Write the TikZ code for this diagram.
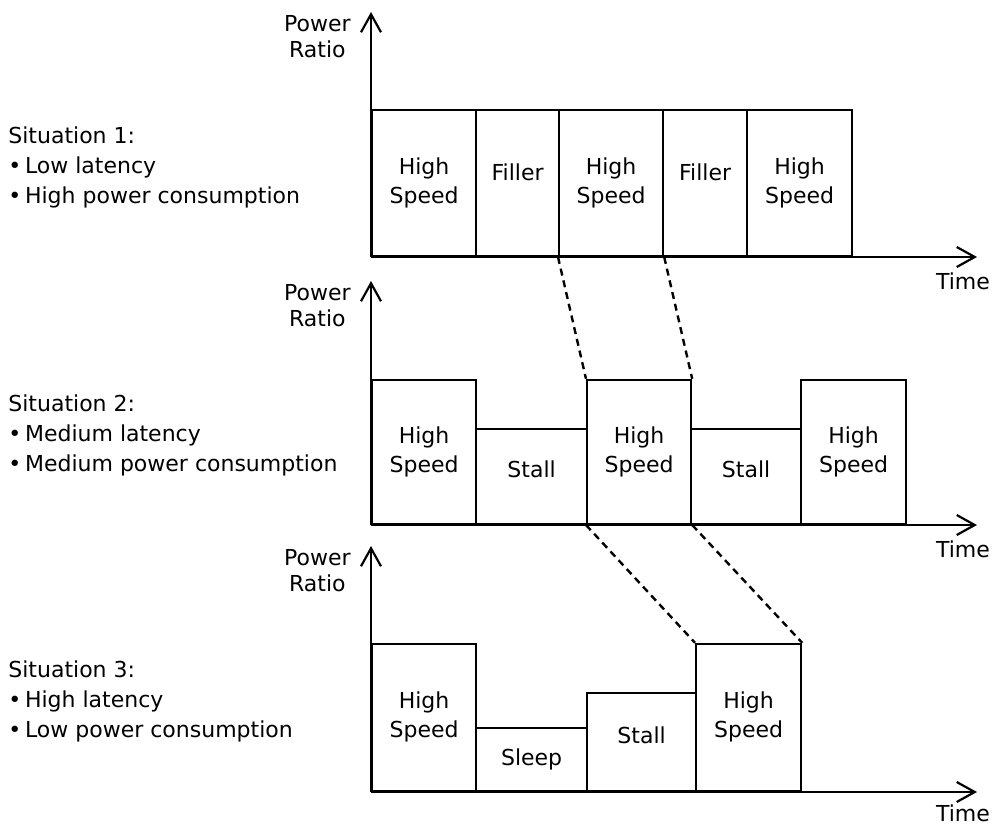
\documentclass[tikz,border=0pt]{standalone}
\usepackage{fontspec}
\setmainfont{DejaVu Sans}
\usetikzlibrary{arrows.meta,positioning}
\tikzstyle{slot}=[draw,line width=1.1pt,inner sep=0pt,anchor=south west,align=center,font=\fontsize{11}{14.5}\selectfont]
\tikzstyle{axis}=[line width=1.1pt,-{Straight Barb[length=9pt,width=10pt,line width=1.1pt]}]
\tikzstyle{link}=[line width=1.2pt,dash pattern=on 3.5pt off 2.5pt]
\tikzstyle{ylbl}=[anchor=east,inner sep=0pt,align=center,font=\fontsize{11}{13}\selectfont]
\tikzstyle{xlbl}=[inner sep=0pt,font=\fontsize{11}{13}\selectfont]
\tikzstyle{case}=[anchor=west,inner sep=0pt,align=left,font=\fontsize{11}{15}\selectfont]

\begin{document}
\begin{tikzpicture}[x=0.5pt,y=-0.5pt]
        \useasboundingbox (0,0) rectangle (997,825);
        % situation 1
        \node[slot,minimum width=52pt,minimum height=73pt] (a1) at (371,257) {High\\Speed};
        \node[slot,minimum width=41.5pt,minimum height=73pt,text depth=11pt] (a2) at (475,257) {Filler};
        \node[slot,minimum width=52pt,minimum height=73pt] (a3) at (558,257) {High\\Speed};
        \node[slot,minimum width=42pt,minimum height=73pt,text depth=11pt] (a4) at (662,257) {Filler};
        \node[slot,minimum width=52.5pt,minimum height=73pt] (a5) at (746,257) {High\\Speed};
        \coordinate (o1) at (371,257);
        \coordinate (y1) at (371,12);
        \coordinate (x1) at (977,257);
        \draw[axis] (o1) -- (y1);
        \draw[axis] (o1) -- (x1);
        \node[ylbl] (p1) at (351,37) {Power\\Ratio};
        \node[xlbl] (t1) at (963,281) {Time};
        \node[case] (s1) at (8,167) {Situation 1:\\•\,Low latency\\•\,High power consumption};
        % situation 2
        \node[slot,minimum width=52pt,minimum height=72pt] (b1) at (371,525) {High\\Speed};
        \node[slot,minimum width=55.5pt,minimum height=47.5pt,text depth=7pt] (b2) at (475,525) {Stall};
        \node[slot,minimum width=52pt,minimum height=72pt] (b3) at (586,525) {High\\Speed};
        \node[slot,minimum width=55pt,minimum height=47.5pt,text depth=7pt] (b4) at (690,525) {Stall};
        \node[slot,minimum width=52.5pt,minimum height=72pt] (b5) at (800,525) {High\\Speed};
        \coordinate (o2) at (371,525);
        \coordinate (y2) at (371,281);
        \coordinate (x2) at (977,525);
        \draw[axis] (o2) -- (y2);
        \draw[axis] (o2) -- (x2);
        \node[ylbl] (p2) at (351,306) {Power\\Ratio};
        \node[xlbl] (t2) at (963,549) {Time};
        \node[case] (s2) at (8,435) {Situation 2:\\•\,Medium latency\\•\,Medium power consumption};
        % situation 3
        \node[slot,minimum width=52pt,minimum height=73.5pt] (c1) at (371,792) {High\\Speed};
        \node[slot,minimum width=55.5pt,minimum height=31.5pt] (c2) at (475,792) {Sleep};
        \node[slot,minimum width=54.5pt,minimum height=49pt,text depth=7pt] (c3) at (586,792) {Stall};
        \node[slot,minimum width=52.5pt,minimum height=73.5pt] (c4) at (695,792) {High\\Speed};
        \coordinate (o3) at (371,792);
        \coordinate (y3) at (371,546);
        \coordinate (x3) at (977,792);
        \draw[axis] (o3) -- (y3);
        \draw[axis] (o3) -- (x3);
        \node[ylbl] (p3) at (351,571) {Power\\Ratio};
        \node[xlbl] (t3) at (963,813) {Time};
        \node[case] (s3) at (8,701) {Situation 3:\\•\,High latency\\•\,Low power consumption};
        % mapping of the high speed slots
        \draw[link] (a3.south west) -- (b3.north west);
        \draw[link] (a3.south east) -- (b3.north east);
        \draw[link] (b3.south west) -- (c4.north west);
        \draw[link] (b3.south east) -- (c4.north east);
      \end{tikzpicture}
\end{document}
